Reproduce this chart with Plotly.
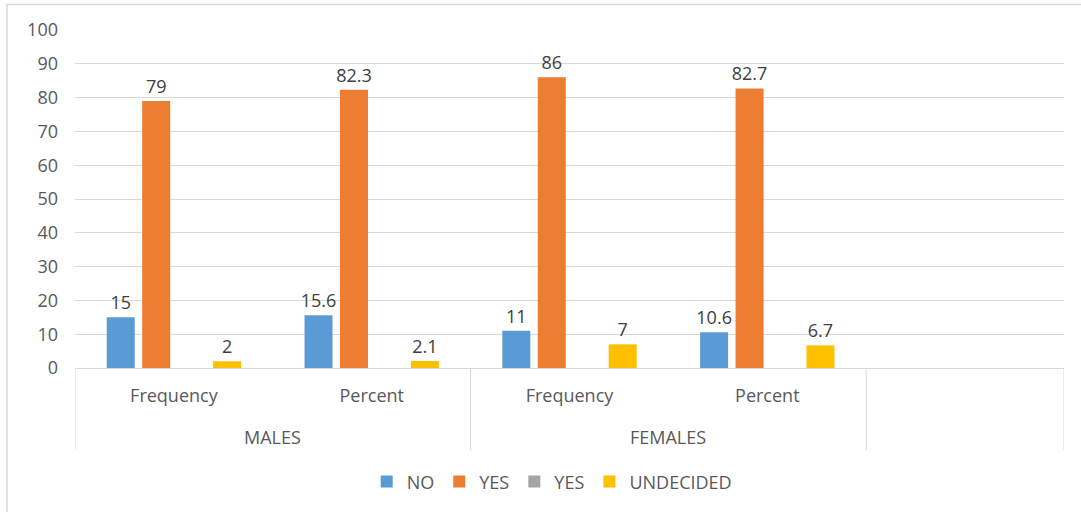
import plotly.graph_objects as go

# Data
groups = ["MALES", "MALES", "FEMALES", "FEMALES"]
measures = ["Frequency", "Percent", "Frequency", "Percent"]
no_vals = [15, 15.6, 11, 10.6]
yes_vals = [79, 82.3, 86, 82.7]
yes2_vals = [None, None, None, None]
undecided_vals = [2, 2.1, 7, 6.7]
y_ticks = [0, 10, 20, 30, 40, 50, 60, 70, 80, 90, 100]

x = list(range(len(measures)))

FONT = "Open Sans"
TXT = "#595959"
GRID = "#D9D9D9"

series = [
    ("NO", no_vals, "#5B9BD5"),
    ("YES", yes_vals, "#ED7D31"),
    ("YES", yes2_vals, "#A5A5A5"),
    ("UNDECIDED", undecided_vals, "#FFC000"),
]

fig = go.Figure()
for name, vals, color in series:
    fig.add_trace(go.Bar(
        x=x, y=vals, name=name,
        marker=dict(color=color, line=dict(width=0)),
        text=[("" if v is None else f"{v:g}") for v in vals],
        textposition="outside",
        constraintext="none",
        textfont=dict(family=FONT, size=18, color="#404040"),
        cliponaxis=False,
    ))

fig.update_layout(
    width=1081, height=512,
    margin=dict(l=75, r=17, t=30, b=144),
    paper_bgcolor="white", plot_bgcolor="white",
    barmode="group", bargap=0.283, bargroupgap=0.21,
    font=dict(family=FONT, size=18, color=TXT),
    showlegend=True,
    legend=dict(orientation="h", x=0.482, xanchor="center", y=-0.337, yanchor="middle",
                font=dict(family=FONT, size=18, color=TXT), itemclick=False,
                traceorder="normal"),
)

fig.update_xaxes(
    range=[-0.5, 4.5],
    tickmode="array", tickvals=x, ticktext=measures,
    showgrid=False, zeroline=False,
    showline=True, linecolor=GRID, linewidth=1,
    ticks="", ticklabelstandoff=11,
    tickfont=dict(family=FONT, size=18, color=TXT),
)
fig.update_yaxes(
    range=[0, 100], tickvals=y_ticks,
    showgrid=True, gridcolor=GRID, gridwidth=1,
    zeroline=False, showline=False,
    ticks="", ticklabelstandoff=16,
    tickfont=dict(family=FONT, size=18, color=TXT),
)

# Outer group labels
outer = {}
for i, g in enumerate(groups):
    outer.setdefault(g, []).append(i)
for g, idx in outer.items():
    fig.add_annotation(x=sum(idx) / len(idx), y=0, xref="x", yref="paper",
                       text=g, showarrow=False, yanchor="middle", yshift=-69,
                       font=dict(family=FONT, size=18, color=TXT))

# Category dividers
div_x = [-0.5, 1.5, 3.5, 4.5]
for dx in div_x:
    fig.add_shape(type="line", xref="x", yref="paper", x0=dx, x1=dx, y0=0, y1=-0.2426,
                  line=dict(color=GRID, width=1))

# Chart border
fig.add_shape(type="rect", xref="paper", yref="paper",
              x0=-0.0688, x1=1.03, y0=-0.45, y1=1.0754,
              line=dict(color=GRID, width=1.5), layer="below")

fig.write_html("out.html")
